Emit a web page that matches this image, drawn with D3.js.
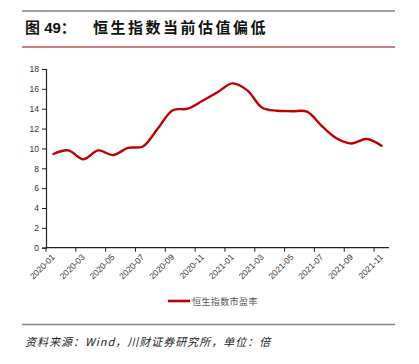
<!DOCTYPE html>
<html><head><meta charset="utf-8">
<script src="https://cdn.jsdelivr.net/npm/d3@7"></script>
<style>
body{margin:0;background:#fff;}
svg{display:block;}
</style></head>
<body>
<svg id="c" width="419" height="364"></svg>
<script>
const months = ["2020-01","2020-02","2020-03","2020-04","2020-05","2020-06","2020-07","2020-08","2020-09","2020-10","2020-11","2020-12",
"2021-01","2021-02","2021-03","2021-04","2021-05","2021-06","2021-07","2021-08","2021-09","2021-10","2021-11"];
const peValues = [9.44,9.8,8.9,9.8,9.33,10.05,10.2,12.0,13.85,14.0,14.8,15.65,16.55,15.85,14.1,13.8,13.75,13.7,12.25,11.0,10.5,10.95,10.27];
const yTicks = [0,2,4,6,8,10,12,14,16,18];
const seriesName = "恒生指数市盈率";
const titleText = "恒生指数当前估值偏低";
const figLabel = "图 49：";
const sourceText = "资料来源：Wind，川财证券研究所，单位：倍";

const svg = d3.select("#c");
const plotL = 46, plotR = 389, plotT = 69, plotB = 247.7;

// frame lines
svg.append("line").attr("x1",22).attr("x2",395).attr("y1",11).attr("y2",11).attr("stroke","#808080").attr("stroke-width",1.3);
svg.append("line").attr("x1",22).attr("x2",395).attr("y1",47).attr("y2",47).attr("stroke","#c0504d").attr("stroke-width",1.3);
svg.append("line").attr("x1",22).attr("x2",395).attr("y1",324.5).attr("y2",324.5).attr("stroke","#808080").attr("stroke-width",1.3);

svg.append("text").attr("x",25).attr("y",32.5).attr("font-family","Liberation Sans, Arial, Noto Sans CJK SC").attr("font-weight","bold")
  .attr("font-size",15).attr("fill","#111").text(figLabel);
svg.append("text").attr("x",93).attr("y",32.5).attr("font-family","Noto Sans CJK SC").attr("font-weight","bold")
  .attr("font-size",15).attr("letter-spacing",2.5).attr("fill","#111").text(titleText);

const x = d3.scaleBand().domain(months).range([plotL,plotR]).padding(0);
const y = d3.scaleLinear().domain([0,18]).range([plotB,plotT]);

const fontTick = "Liberation Sans, Arial, sans-serif";

// y axis
const yAxis = d3.axisLeft(y).tickValues(yTicks).tickSize(4).tickPadding(3);
const gy = svg.append("g").attr("transform",`translate(${plotL},0)`).call(yAxis);
gy.select(".domain").attr("stroke","#222").attr("stroke-width",1.2);
gy.selectAll(".tick line").attr("stroke","#222");
gy.selectAll(".tick text").attr("font-family",fontTick).attr("font-size",8.5).attr("fill","#333");

// x axis
const labelMonths = months.filter((d,i)=>i%2===0);
const gx = svg.append("g").attr("transform",`translate(0,${plotB})`);
gx.append("line").attr("x1",plotL).attr("x2",plotR).attr("stroke","#222").attr("stroke-width",1.2);
gx.selectAll("line.tk").data(labelMonths).enter().append("line").attr("class","tk")
  .attr("x1",d=>x(d)).attr("x2",d=>x(d)).attr("y1",0).attr("y2",4).attr("stroke","#222");
gx.selectAll("text").data(labelMonths).enter().append("text")
  .attr("transform",d=>`translate(${x(d)+x.bandwidth()/2+2},${10}) rotate(-45)`)
  .attr("text-anchor","end").attr("font-family",fontTick).attr("font-size",8.5).attr("fill","#333").text(d=>d);

// line
const line = d3.line().x((d,i)=>x(months[i])+x.bandwidth()/2).y(d=>y(d)).curve(d3.curveCatmullRom.alpha(0.5));
svg.append("path").datum(peValues).attr("d",line).attr("fill","none").attr("stroke","#c00000").attr("stroke-width",2.4)
  .attr("stroke-linejoin","round").attr("stroke-linecap","round");

// legend
svg.append("line").attr("x1",168).attr("x2",190).attr("y1",301).attr("y2",301).attr("stroke","#c00000").attr("stroke-width",2.6);
svg.append("text").attr("x",192).attr("y",304.5).attr("font-family","Noto Sans CJK SC").attr("font-size",9).attr("letter-spacing",0.4)
  .attr("fill","#555").text(seriesName);

// source
svg.append("text").attr("x",25).attr("y",346).attr("font-family","Noto Sans CJK SC").attr("font-style","italic")
  .attr("font-size",11).attr("letter-spacing",1).attr("fill","#222").text(sourceText);
</script>
</body></html>
